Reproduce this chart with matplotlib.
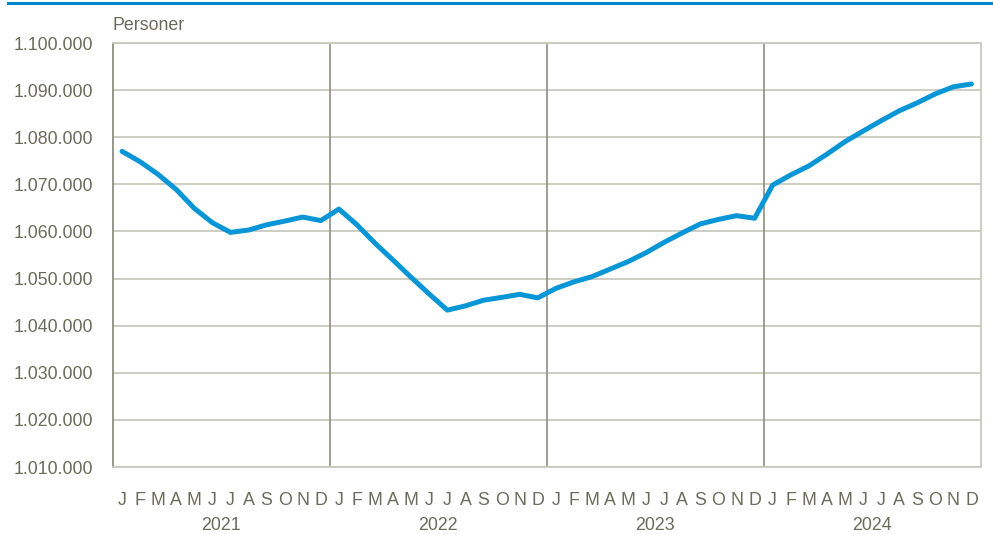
import numpy as np
import matplotlib.pyplot as plt
from matplotlib.ticker import FuncFormatter
import matplotlib.transforms as mtransforms

plt.rcParams['font.family'] = ['Liberation Sans', 'DejaVu Sans']

# Data (persons, monthly 2021-2024)
years = ["2021", "2022", "2023", "2024"]
months = ["J", "F", "M", "A", "M", "J", "J", "A", "S", "O", "N", "D"]
persons = [
    1077000, 1074800, 1072100, 1068900, 1064900, 1061850,
    1059800, 1060300, 1061400, 1062200, 1063050, 1062300,
    1064750, 1061400, 1057500, 1053900, 1050250, 1046700,
    1043300, 1044200, 1045400, 1046000, 1046650, 1045900,
    1047900, 1049300, 1050400, 1052000, 1053600, 1055500,
    1057700, 1059700, 1061600, 1062550, 1063350, 1062800,
    1069850, 1072000, 1073900, 1076400, 1079050, 1081300,
    1083500, 1085600, 1087300, 1089200, 1090700, 1091300,
]

text_col = "#6b6b5c"
grid_col = "#c9c9bf"
blue = "#0996d6"

fig = plt.figure(figsize=(9.93, 5.34), dpi=100)
ax = fig.add_axes([113 / 993, 67 / 534, 867.5 / 993, 424 / 534])

x = np.arange(len(persons))
ax.plot(x, persons, color=blue, lw=3.6, solid_joinstyle="round", solid_capstyle="round", zorder=3)

ax.set_xlim(-0.5, len(persons) - 0.5)
ax.set_ylim(1010000, 1100000)
ax.set_yticks(np.arange(1010000, 1100001, 10000))
ax.yaxis.set_major_formatter(FuncFormatter(lambda v, p: f"{int(v):,}".replace(",", ".")))
ax.grid(axis="y", color=grid_col, lw=1.3, zorder=1)

ax.set_xticks(x)
ax.set_xticklabels(months * len(years))
ax.tick_params(axis="both", length=0, colors=text_col, labelsize=12.8)
ax.tick_params(axis="x", pad=18)
ax.tick_params(axis="y", pad=14.5)

for i in range(1, len(years)):
    ax.axvline(i * 12 - 0.5, color="#8e8e80", lw=1.2, zorder=2)

for s in ["top", "right", "bottom"]:
    ax.spines[s].set_color(grid_col)
    ax.spines[s].set_linewidth(1.3)
ax.spines["left"].set_color("#8e8e80")
ax.spines["left"].set_linewidth(1.3)

trans = mtransforms.blended_transform_factory(ax.transData, ax.transAxes)
for i, yr in enumerate(years):
    ax.text(i * 12 + 5.5, -0.137, yr, transform=trans, ha="center", va="center",
            color=text_col, fontsize=12.8)

fig.text(113 / 993, 1 - 25.5 / 534, "Personer", ha="left", va="center", color=text_col, fontsize=12.8)
fig.add_artist(plt.Line2D([8 / 993, 1], [1 - 3 / 534, 1 - 3 / 534], color="#0088cc", lw=2.2))

fig.savefig("out.png", dpi=100)
